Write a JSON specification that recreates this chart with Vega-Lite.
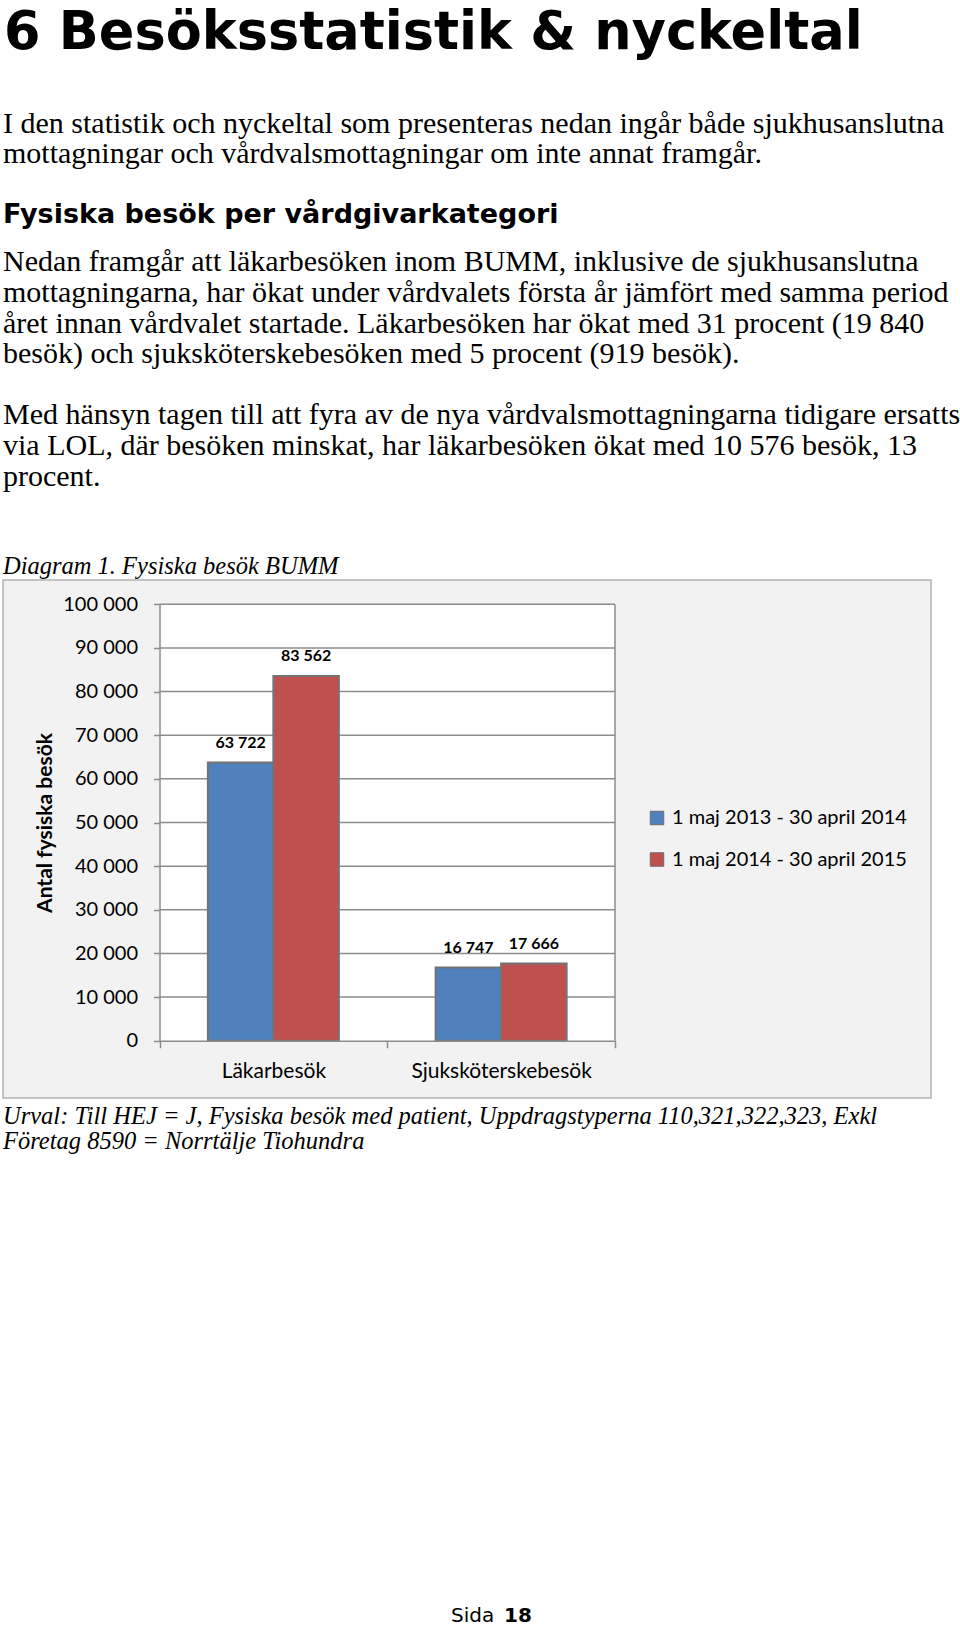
{
  "$schema": "https://vega.github.io/schema/vega-lite/v6.json",
  "background": "white",
  "padding": {"left": 2, "top": 0, "right": 0, "bottom": 0},
  "bounds": "flush",
  "spacing": 0,
  "config": {
    "locale": {"number": {"decimal": ",", "thousands": " ", "grouping": [3], "currency": ["", " kr"]}},
    "view": {"stroke": null}
  },
  "datasets": {
    "besok": [
      {"kategori": "Läkarbesök", "period": "1 maj 2013 - 30 april 2014", "besok": 63722},
      {"kategori": "Läkarbesök", "period": "1 maj 2014 - 30 april 2015", "besok": 83562},
      {"kategori": "Sjuksköterskebesök", "period": "1 maj 2013 - 30 april 2014", "besok": 16747},
      {"kategori": "Sjuksköterskebesök", "period": "1 maj 2014 - 30 april 2015", "besok": 17666}
    ],
    "grid": [
      {"v": 10000}, {"v": 20000}, {"v": 30000}, {"v": 40000}, {"v": 50000},
      {"v": 60000}, {"v": 70000}, {"v": 80000}, {"v": 90000}, {"v": 100000}
    ],
    "header": [
      {"block": "title", "text": "6 Besöksstatistik & nyckeltal"},
      {"block": "intro", "text": "I den statistik och nyckeltal som presenteras nedan ingår både sjukhusanslutna\nmottagningar och vårdvalsmottagningar om inte annat framgår."},
      {"block": "heading", "text": "Fysiska besök per vårdgivarkategori"},
      {"block": "p1", "text": "Nedan framgår att läkarbesöken inom BUMM, inklusive de sjukhusanslutna\nmottagningarna, har ökat under vårdvalets första år jämfört med samma period\nåret innan vårdvalet startade. Läkarbesöken har ökat med 31 procent (19 840\nbesök) och sjuksköterskebesöken med 5 procent (919 besök)."},
      {"block": "p2", "text": "Med hänsyn tagen till att fyra av de nya vårdvalsmottagningarna tidigare ersatts\nvia LOL, där besöken minskat, har läkarbesöken ökat med 10 576 besök, 13\nprocent."},
      {"block": "caption", "text": "Diagram 1. Fysiska besök BUMM"}
    ],
    "footer": [
      {"block": "urval", "text": "Urval: Till HEJ = J, Fysiska besök med patient, Uppdragstyperna 110,321,322,323, Exkl\nFöretag 8590 = Norrtälje Tiohundra"},
      {"block": "sida", "text": "Sida"},
      {"block": "nr", "text": "18"}
    ]
  },
  "vconcat": [
    {
      "width": 958,
      "height": 580,
      "data": {"name": "header"},
      "layer": [
        {
          "transform": [{"filter": "datum.block === 'title'"}],
          "mark": {"type": "text", "font": "DejaVu Sans", "fontWeight": "bold", "fontSize": 52.5, "align": "left", "baseline": "alphabetic", "color": "#000"},
          "encoding": {"text": {"field": "text"}, "x": {"value": 1}, "y": {"value": 49}}
        },
        {
          "transform": [{"filter": "datum.block === 'intro'"}],
          "mark": {"type": "text", "font": "Liberation Serif", "fontSize": 30, "align": "left", "baseline": "alphabetic", "lineBreak": "\n", "lineHeight": 30, "color": "#000"},
          "encoding": {"text": {"field": "text"}, "x": {"value": 0}, "y": {"value": 133}}
        },
        {
          "transform": [{"filter": "datum.block === 'heading'"}],
          "mark": {"type": "text", "font": "DejaVu Sans", "fontWeight": "bold", "fontSize": 27, "align": "left", "baseline": "alphabetic", "color": "#000"},
          "encoding": {"text": {"field": "text"}, "x": {"value": 0}, "y": {"value": 222.5}}
        },
        {
          "transform": [{"filter": "datum.block === 'p1'"}],
          "mark": {"type": "text", "font": "Liberation Serif", "fontSize": 30, "align": "left", "baseline": "alphabetic", "lineBreak": "\n", "lineHeight": 30.7, "color": "#000"},
          "encoding": {"text": {"field": "text"}, "x": {"value": 0}, "y": {"value": 271.3}}
        },
        {
          "transform": [{"filter": "datum.block === 'p2'"}],
          "mark": {"type": "text", "font": "Liberation Serif", "fontSize": 30, "align": "left", "baseline": "alphabetic", "lineBreak": "\n", "lineHeight": 31.1, "color": "#000"},
          "encoding": {"text": {"field": "text"}, "x": {"value": 0}, "y": {"value": 424}}
        },
        {
          "transform": [{"filter": "datum.block === 'caption'"}],
          "mark": {"type": "text", "font": "Liberation Serif", "fontStyle": "italic", "fontSize": 24.5, "align": "left", "baseline": "alphabetic", "color": "#000"},
          "encoding": {"text": {"field": "text"}, "x": {"value": 0}, "y": {"value": 573.6}}
        }
      ]
    },
    {
      "width": 928,
      "height": 518,
      "view": {"fill": "#f2f2f2", "stroke": "#b3b3b3", "strokeWidth": 1.5},
      "layer": [
        {
          "data": {"name": "besok"},
          "mark": {"type": "bar", "fill": "white", "stroke": null},
          "encoding": {
            "x": {
              "field": "kategori", "type": "nominal", "sort": null, "title": null,
              "scale": {"range": [156.5, 612], "paddingInner": 0, "paddingOuter": 0},
              "axis": {
                "orient": "bottom", "offset": -57.3, "title": null, "labelAngle": 0, "labelLimit": 400,
                "tickBand": "extent", "tickSize": 7, "tickColor": "#8c8c8c", "tickWidth": 1.5,
                "domainColor": "#8c8c8c", "domainWidth": 1.5,
                "labelFont": "Lato", "labelFontSize": 21, "labelColor": "#000", "labelPadding": 13,
                "zindex": 1
              }
            },
            "y": {
              "datum": 100000, "type": "quantitative", "title": "Antal fysiska besök",
              "scale": {"domain": [0, 100000], "range": [460.7, 24.3], "nice": false, "zero": true},
              "axis": {
                "orient": "left", "offset": -156.5, "grid": false,
                "values": [0, 10000, 20000, 30000, 40000, 50000, 60000, 70000, 80000, 90000, 100000],
                "format": ",d",
                "domainColor": "#8c8c8c", "domainWidth": 1.5, "tickColor": "#8c8c8c", "tickWidth": 1.5, "tickSize": 6,
                "labelFont": "Lato", "labelFontSize": 20, "labelColor": "#000", "labelPadding": 16,
                "title": "Antal fysiska besök", "titleFont": "Lato", "titleFontSize": 21, "titleFontWeight": "bold", "titleColor": "#000",
                "titleX": -114.5, "titleY": 242.5, "titleAngle": -90, "titleAlign": "center", "titleBaseline": "middle",
                "zindex": 1
              }
            },
            "y2": {"datum": 0}
          }
        },
        {
          "data": {"name": "grid"},
          "mark": {"type": "rule", "color": "#8c8c8c", "strokeWidth": 1.5},
          "encoding": {
            "x": {"datum": "Läkarbesök", "type": "nominal", "bandPosition": 0, "title": null},
            "x2": {"datum": "Sjuksköterskebesök", "bandPosition": 1},
            "y": {"field": "v", "type": "quantitative", "title": "Antal fysiska besök"}
          }
        },
        {
          "data": {"values": [{"kant": "höger"}]},
          "mark": {"type": "rule", "color": "#8c8c8c", "strokeWidth": 1.5},
          "encoding": {
            "x": {"datum": "Sjuksköterskebesök", "type": "nominal", "bandPosition": 1, "title": null},
            "y": {"datum": 0, "type": "quantitative", "title": "Antal fysiska besök"},
            "y2": {"datum": 100000}
          }
        },
        {
          "data": {"name": "besok"},
          "mark": {"type": "bar", "stroke": "#737373", "strokeWidth": 2},
          "encoding": {
            "x": {"field": "kategori", "type": "nominal", "sort": null, "title": null},
            "xOffset": {"field": "period", "type": "nominal", "sort": null, "scale": {"paddingInner": 0, "paddingOuter": 0.7385}},
            "y": {"field": "besok", "type": "quantitative", "title": "Antal fysiska besök"},
            "color": {
              "field": "period", "type": "nominal", "sort": null,
              "scale": {"domain": ["1 maj 2013 - 30 april 2014", "1 maj 2014 - 30 april 2015"], "range": ["#4f81bd", "#c0504d"]},
              "legend": {
                "orient": "none", "legendX": 644, "legendY": 808, "title": null, "padding": 0,
                "symbolType": "square", "symbolSize": 182, "symbolStrokeColor": "#6d6d6d", "symbolStrokeWidth": 1, "symbolOpacity": 1,
                "labelFont": "Lato", "labelFontSize": 20, "labelColor": "#000", "labelOffset": 5, "rowPadding": 21.5, "labelLimit": 400
              }
            }
          }
        },
        {
          "data": {"name": "besok"},
          "mark": {"type": "text", "font": "Lato", "fontWeight": "bold", "fontSize": 16, "baseline": "middle", "align": "center", "dy": -20, "color": "#000"},
          "encoding": {
            "x": {"field": "kategori", "type": "nominal", "sort": null, "title": null},
            "xOffset": {"field": "period", "type": "nominal", "sort": null},
            "y": {"field": "besok", "type": "quantitative", "title": "Antal fysiska besök"},
            "text": {"field": "besok", "type": "quantitative", "format": ",d"}
          }
        }
      ]
    },
    {
      "width": 958,
      "height": 527,
      "data": {"name": "footer"},
      "layer": [
        {
          "transform": [{"filter": "datum.block === 'urval'"}],
          "mark": {"type": "text", "font": "Liberation Serif", "fontStyle": "italic", "fontSize": 24.5, "align": "left", "baseline": "alphabetic", "lineBreak": "\n", "lineHeight": 25.9, "color": "#000"},
          "encoding": {"text": {"field": "text"}, "x": {"value": 0}, "y": {"value": 25.6}}
        },
        {
          "transform": [{"filter": "datum.block === 'sida'"}],
          "mark": {"type": "text", "font": "DejaVu Sans", "fontSize": 20, "align": "left", "baseline": "alphabetic", "color": "#000"},
          "encoding": {"text": {"field": "text"}, "x": {"value": 448}, "y": {"value": 523.5}}
        },
        {
          "transform": [{"filter": "datum.block === 'nr'"}],
          "mark": {"type": "text", "font": "DejaVu Sans", "fontWeight": "bold", "fontSize": 20, "align": "left", "baseline": "alphabetic", "color": "#000"},
          "encoding": {"text": {"field": "text"}, "x": {"value": 501}, "y": {"value": 523.5}}
        }
      ]
    }
  ]
}
